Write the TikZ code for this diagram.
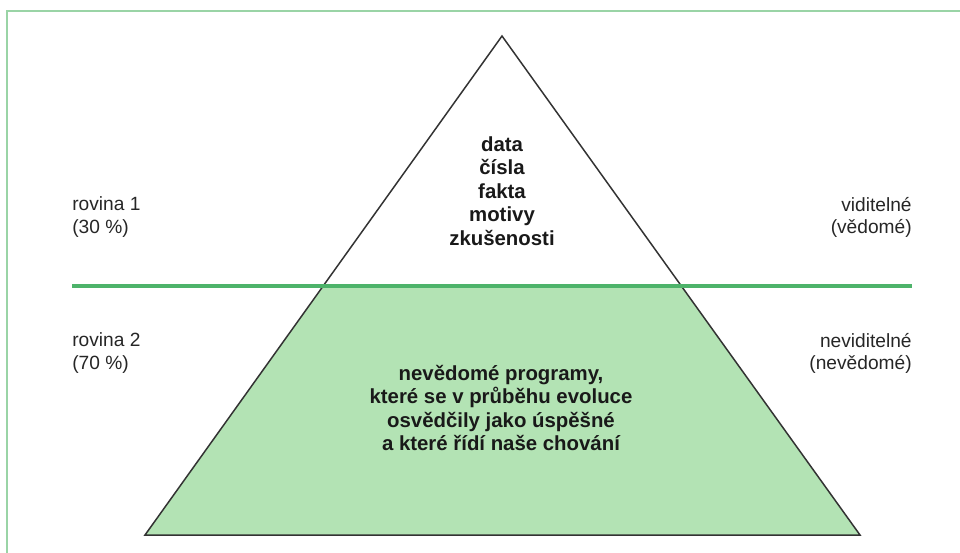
\documentclass[tikz,border=0pt]{standalone}
\usepackage{fontspec}
\setmainfont{Liberation Sans}
\usepackage{xcolor}
\usetikzlibrary{calc}
\definecolor{framegreen}{HTML}{9AD4A6}
\definecolor{linegreen}{HTML}{4DB36A}
\definecolor{fillgreen}{HTML}{B3E3B4}
\definecolor{edgegray}{HTML}{333333}
\tikzset{
	level/.style={font=\fontsize{10.9}{12.6}\selectfont, align=left, inner sep=0pt, text=black!85},
	levelr/.style={level, align=right},
	inside/.style={font=\bfseries\fontsize{11.6}{13.4}\selectfont, align=center, inner sep=0pt, text=black!90}
}

\begin{document}
\begin{tikzpicture}[x=0.02cm, y=-0.02cm]
	\useasboundingbox (0,0) rectangle (960,552);
	\draw[framegreen, line width=1.1pt] (7,600) -- (7,11) -- (1000,11);

	\coordinate (top) at (502,36);
	\coordinate (bl) at (145,535);
	\coordinate (br) at (860,535);
	\coordinate (cutl) at ($(top)!0.5!(bl)$);
	\coordinate (cutr) at ($(top)!0.5!(br)$);

	\fill[fillgreen] (cutl) -- (cutr) -- (br) -- (bl) -- cycle;
	\draw[edgegray, line width=0.85pt] (top) -- (br) -- (bl) -- cycle;

	\coordinate (divl) at (72,286);
	\coordinate (divr) at (912,286);
	\draw[linegreen, line width=1.9pt] (divl) -- (divr);

	\node[inside] (known) at (502,191) {data\\čísla\\fakta\\motivy\\zkušenosti};
	\node[inside] (unknown) at (501,408) {nevědomé programy,\\které se v průběhu evoluce\\osvědčily jako úspěšné\\a které řídí naše chování};

	\node[level, anchor=west] (lvl1) at (72,217) {rovina 1\\(30 \%)};
	\node[level, anchor=west] (lvl2) at (72,353) {rovina 2\\(70 \%)};
	\node[levelr, anchor=east] (vis) at (912,217) {viditelné\\(vědomé)};
	\node[levelr, anchor=east] (invis) at (912,353) {neviditelné\\(nevědomé)};
\end{tikzpicture}
\end{document}
